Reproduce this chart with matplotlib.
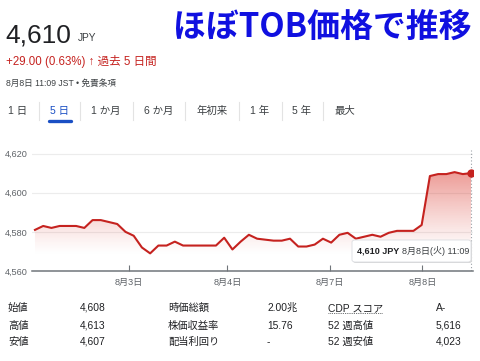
import numpy as np
import matplotlib
matplotlib.use("Agg")
from matplotlib import pyplot as plt
from matplotlib.patches import FancyBboxPatch
from matplotlib.colors import to_rgb

FONT = ["Liberation Sans", "Noto Sans CJK JP"]
plt.rcParams["font.family"] = FONT

# 5-day intraday prices (JPY)
prices = [4581, 4583, 4582, 4583, 4583, 4583, 4582, 4586, 4586, 4585,
          4584, 4580, 4578, 4572, 4569, 4573, 4573, 4575, 4573, 4573,
          4573, 4573, 4573, 4577, 4571, 4575, 4578.5, 4576.5, 4576, 4575.5,
          4575.5, 4576.5, 4572.5, 4572.5, 4573.5, 4576.5, 4574.5, 4578.5, 4579.5, 4576.5,
          4577.5, 4578.5, 4577.5, 4579.5, 4580.5, 4580.5, 4580.5, 4583.5, 4608.5, 4609.5,
          4609.5, 4610.5, 4609.5, 4610]
day_ticks = [11.4, 23.4, 35.8, 47.1]
day_labels = ["8月3日", "8月4日", "8月7日", "8月8日"]
y_ticks = [4560, 4580, 4600, 4620]

price_now = "4,610"
change = "+29.00 (0.63%) ↑ 過去 5 日間"
stamp = "8月8日 11:09 JST • 免責条項"
tip_time = "8月8日(火) 11:09"
tabs = ["1 日", "5 日", "1 か月", "6 か月", "年初来", "1 年", "5 年", "最大"]
tab_x = [18, 60, 106, 159, 212, 260, 302, 345]
active_tab = 1

stat_labels = [["始値", "時価総額", "CDP スコア"],
               ["高値", "株価収益率", "52 週高値"],
               ["安値", "配当利回り", "52 週安値"]]
stat_values = [["4,608", "2.00兆", "A-"],
               ["4,613", "15.76", "5,616"],
               ["4,607", "-", "4,023"]]

RED = "#c5221f"
GREY = "#5f6368"
DARK = "#202124"
W, H = 480, 361


def fx(x):
    return x / W


def fy(y):
    return 1 - y / H


fig = plt.figure(figsize=(W / 100, H / 100), dpi=100)

# ---- chart ----
ax = fig.add_axes([fx(32), fy(271), (473 - 32) / W, 121 / H])
x = np.arange(len(prices))
ymin, ymax = 4560, 4621.8
xmin, xmax = -0.36, 53.24

ax.plot(x, prices, color=RED, lw=1.5, zorder=3, solid_joinstyle="round")
ax.plot(x[-1], prices[-1], "o", color=RED, ms=5, zorder=4)

poly = ax.fill_between(x, prices, ymin, color="none", lw=0)
t = np.clip((np.linspace(ymin, ymax, 256) - 4568) / 44, 0, 1)
grad = np.zeros((256, 1, 4))
grad[:, 0, :3] = to_rgb("#d93025")
grad[:, 0, 3] = 0.5 * t ** 1.2
im = ax.imshow(grad, extent=[xmin, xmax, ymin, ymax], origin="lower",
               aspect="auto", zorder=2)
im.set_clip_path(poly.get_paths()[0], transform=ax.transData)

ax.axvline(x[-1], color="#9aa0a6", lw=0.8, ls=(0, (1, 2)), zorder=1)

ax.set_xlim(xmin, xmax)
ax.set_ylim(ymin, ymax)
ax.set_yticks(y_ticks)
ax.set_yticklabels([f"{v:,}" for v in y_ticks])
ax.set_xticks(day_ticks)
ax.set_xticklabels(day_labels)
ax.tick_params(axis="y", length=0, pad=3, labelsize=6.6, labelcolor=GREY)
ax.tick_params(axis="x", direction="in", length=4, width=0.8, color="#70757a",
               pad=5, labelsize=6.6, labelcolor=GREY)
for v in y_ticks[1:]:
    ax.axhline(v, color="#ececec", lw=0.8, zorder=0)
for s in ["top", "right", "left"]:
    ax.spines[s].set_visible(False)
ax.spines["bottom"].set_color("#70757a")
ax.spines["bottom"].set_linewidth(1.1)

# tooltip
shadow = FancyBboxPatch((fx(353), fy(263)), 119 / W, 22 / H,
                        boxstyle="round,pad=0,rounding_size=0.006",
                        transform=fig.transFigure, fc="#d8d8d8", ec="none")
box = FancyBboxPatch((fx(352), fy(262)), 119 / W, 22 / H,
                     boxstyle="round,pad=0,rounding_size=0.006",
                     transform=fig.transFigure, fc="white", ec="#dadce0", lw=0.6)
fig.patches.extend([shadow, box])
fig.text(fx(357), fy(251), f"{prices[-1]:,.0f} JPY", fontsize=6.5, weight="bold",
         color=DARK, va="center")
fig.text(fx(402), fy(251), tip_time, fontsize=6.5, color="#3c4043", va="center")

# ---- header ----
fig.text(fx(5), fy(42), price_now, fontsize=19, color=DARK, va="baseline")
fig.text(fx(78), fy(41), "JPY", fontsize=7.3, color="#3c4043", va="baseline")
fig.text(fx(6), fy(62), change, fontsize=8.3, color=RED, va="center")
fig.text(fx(6), fy(83), stamp, fontsize=6.2, color="#3c4043", va="center")

fig.text(fx(173), fy(28), "ほぼTOB価格で推移", fontsize=23.7, weight="bold",
         color="#1010e0", va="center", family=["Noto Sans CJK JP"])

for i, (lab, cx) in enumerate(zip(tabs, tab_x)):
    c = "#1a4fc4" if i == active_tab else "#3c4043"
    fig.text(fx(cx), fy(111), lab, fontsize=7.5, color=c, ha="center", va="center")
for sx in [39, 80, 133, 185, 239, 282, 323]:
    fig.add_artist(plt.Line2D([fx(sx), fx(sx)], [fy(102), fy(120)],
                              color="#e3e3e3", lw=0.8, transform=fig.transFigure))
fig.add_artist(plt.Line2D([fx(49), fx(71)], [fy(120.5), fy(120.5)], color="#1a4fc4",
                          lw=2.4, solid_capstyle="round", transform=fig.transFigure))

# ---- stats ----
row_y = [308, 326, 342]
lab_x = [8, 168, 328]
val_x = [80, 267, 436]
for r, yy in enumerate(row_y):
    for c in range(3):
        fig.text(fx(lab_x[c]), fy(yy), stat_labels[r][c], fontsize=7.4,
                 color=DARK, va="center")
        fig.text(fx(val_x[c]), fy(yy), stat_values[r][c], fontsize=7.4,
                 color=DARK, va="center")
fig.add_artist(plt.Line2D([fx(328), fx(382)], [fy(313), fy(313)], color="#3c4043",
                          lw=0.6, ls=(0, (1, 1.2)), transform=fig.transFigure))

fig.savefig("out.png", dpi=100, facecolor="white")
